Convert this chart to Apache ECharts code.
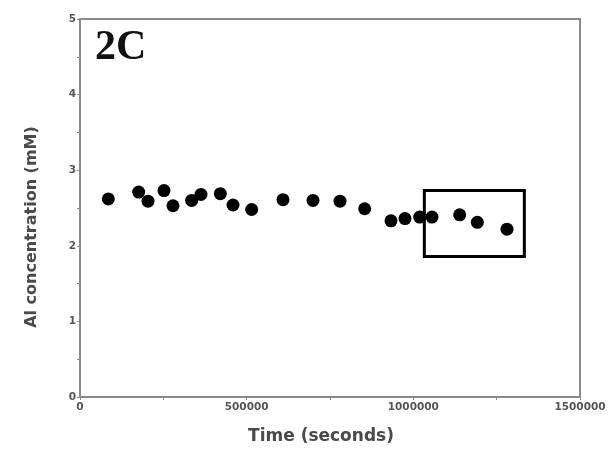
<!DOCTYPE html>
<html><head><meta charset="utf-8">
<script src="https://cdn.jsdelivr.net/npm/echarts@6/dist/echarts.min.js"></script>
<style>html,body{margin:0;padding:0;background:#fff}#c{width:610px;height:450px}</style>
</head><body><div id="c"></div>
<script>
var timeSec = [85000,176000,204000,252000,279000,335000,363000,421000,459000,515000,609000,699000,780000,854000,933000,975000,1019000,1056000,1139000,1192000,1281000];
var alConc = [2.62,2.71,2.59,2.73,2.53,2.60,2.68,2.69,2.54,2.48,2.61,2.60,2.59,2.49,2.33,2.36,2.38,2.38,2.41,2.31,2.22];
var boxX = [1033000,1333000];
var boxY = [1.86,2.73];
var panelLabel = '2C';
var xTitle = 'Time (seconds)';
var yTitle = 'Al concentration (mM)';

var chart = echarts.init(document.getElementById('c'));
var axisGray = '#8a8a8a';
var titleFont = {color:'#4a4a4a',fontSize:17,fontFamily:'DejaVu Sans',fontWeight:'bold',padding:[0,18,0,0]};
chart.setOption({
  animation:false,
  grid:{left:80,right:30,top:19,bottom:52,show:true,borderColor:axisGray,borderWidth:2},
  graphic:[
    {type:'text',left:95,top:27,style:{text:panelLabel,font:'bold 42px "Liberation Serif", serif',fill:'#111'}},
    {type:'text',x:32,y:227,rotation:Math.PI/2,style:{text:yTitle,font:'bold 16px "DejaVu Sans"',fill:'#4a4a4a',align:'center',verticalAlign:'middle'}}
  ],
  xAxis:{type:'value',min:0,max:1500000,interval:500000,
    name:xTitle,nameLocation:'middle',nameGap:31,
    nameTextStyle:titleFont,
    axisLine:{lineStyle:{color:axisGray,width:2}},
    axisTick:{show:true,length:3,lineStyle:{color:axisGray}},
    minorTick:{show:true,splitNumber:2,length:3,lineStyle:{color:axisGray}},
    splitLine:{show:false},
    axisLabel:{color:'#555',fontSize:10.5,fontFamily:'DejaVu Sans',fontWeight:'bold',margin:5,formatter:function(v){return String(v);}}},
  yAxis:{type:'value',min:0,max:5,interval:1,
    axisLine:{lineStyle:{color:axisGray,width:2}},
    axisTick:{show:true,length:3,lineStyle:{color:axisGray}},
    minorTick:{show:true,splitNumber:2,length:3,lineStyle:{color:axisGray}},
    splitLine:{show:false},
    axisLabel:{color:'#555',fontSize:10.5,fontFamily:'DejaVu Sans',fontWeight:'bold',margin:4}},
  series:[{type:'scatter',symbolSize:13,itemStyle:{color:'#000',opacity:1},
    data:timeSec.map(function(t,i){return [t,alConc[i]];}),
    markArea:{silent:true,itemStyle:{color:'rgba(0,0,0,0)',borderColor:'#000',borderWidth:3},
      data:[[{coord:[boxX[0],boxY[1]]},{coord:[boxX[1],boxY[0]]}]]}
  }]
});
</script></body></html>
